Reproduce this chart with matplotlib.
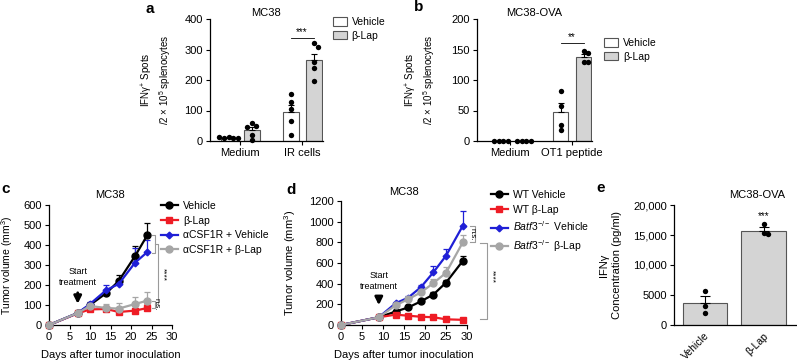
import matplotlib
matplotlib.use("Agg")
import matplotlib.pyplot as plt
import numpy as np
from matplotlib.patches import Patch
from matplotlib.ticker import FuncFormatter

plt.rcParams["font.family"] = ["Liberation Sans", "DejaVu Sans"]
plt.rcParams["mathtext.fontset"] = "custom"
plt.rcParams["mathtext.rm"] = "Liberation Sans"
plt.rcParams["mathtext.it"] = "Liberation Sans:italic"
plt.rcParams["mathtext.bf"] = "Liberation Sans:bold"
plt.rcParams["mathtext.default"] = "regular"
plt.rcParams["axes.linewidth"] = 0.9

W, H = 797, 363

# --- panel a: ELISpot MC38 ---
a_groups = ["Medium", "IR cells"]
a_veh_mean = [10, 95]
a_veh_sem = [3, 22]
a_veh_pts = [[12, 11, 10, 9, 12], [155, 128, 105, 65, 20]]
a_lap_mean = [35, 265]
a_lap_sem = [12, 20]
a_lap_pts = [[58, 48, 45, 20, 2], [320, 308, 258, 240, 197]]

# --- panel b: ELISpot MC38-OVA ---
b_groups = ["Medium", "OT1 peptide"]
b_veh_mean = [0, 47]
b_veh_sem = [0, 16]
b_veh_pts = [[0, 0, 0, 0], [82, 57, 27, 18]]
b_lap_mean = [0, 137]
b_lap_sem = [0, 6]
b_lap_pts = [[0, 0, 0, 0], [148, 145, 130, 129]]

# --- panel c: tumor growth MC38 ---
c_days = [0, 7, 10, 14, 17, 21, 24]
c_labels = ["Vehicle", "β-Lap", "αCSF1R + Vehicle", "αCSF1R + β-Lap"]
c_means = [
    [0, 60, 100, 160, 220, 345, 450],
    [0, 58, 78, 80, 65, 72, 85],
    [0, 60, 105, 175, 205, 312, 365],
    [0, 60, 95, 85, 82, 105, 122],
]
c_errs = [
    [0, 8, 10, 15, 30, 50, 60],
    [0, 8, 10, 12, 15, 15, 20],
    [0, 8, 12, 25, 12, 75, 60],
    [0, 8, 15, 20, 28, 35, 45],
]

# --- panel d: tumor growth WT vs Batf3-/- ---
d_days = [0, 9, 13, 16, 19, 22, 25, 29]
d_labels = ["WT Vehicle", "WT β-Lap",
            r"$\mathit{Batf3}^{-/-}$ Vehicle", r"$\mathit{Batf3}^{-/-}$ β-Lap"]
d_means = [
    [0, 75, 130, 170, 228, 295, 410, 620],
    [0, 75, 100, 90, 80, 75, 55, 50],
    [0, 75, 210, 265, 365, 510, 670, 960],
    [0, 75, 190, 250, 315, 405, 505, 800],
]
d_errs = [
    [0, 8, 12, 15, 15, 20, 30, 45],
    [0, 8, 10, 10, 10, 10, 8, 8],
    [0, 8, 15, 20, 25, 60, 70, 140],
    [0, 8, 20, 20, 20, 45, 55, 70],
]

# --- panel e: IFNg ELISA ---
e_groups = ["Vehicle", "β-Lap"]
e_mean = [3700, 15700]
e_sem = [1100, 600]
e_pts = [[5700, 3200, 2000], [16800, 15300, 15200]]

series_colors = ["#000000", "#ee1c25", "#1f1fd6", "#a6a6a6"]
series_markers = ["o", "s", "D", "o"]
series_ms = [5, 5, 3.4, 5]
bar_gray = "#d4d4d4"
bar_edge = "#555555"
bracket_gray = "#9a9a9a"
TICK = 8


def px_axes(fig, x0, x1, y0, y1):
    return fig.add_axes([x0 / W, 1 - y1 / H, (x1 - x0) / W, (y1 - y0) / H])


def style(ax):
    ax.spines["top"].set_visible(False)
    ax.spines["right"].set_visible(False)
    ax.tick_params(labelsize=TICK, length=3, width=0.8, pad=2)


def swarm(vals, center, px_x, px_y, d=4.6):
    placed = []
    xs = []
    for v in vals:
        y = v * px_y
        for k in [0, 1, -1, 2, -2, 3, -3, 4, -4]:
            x = k * d
            if all((x - qx) ** 2 + (y - qy) ** 2 >= d ** 2 for qx, qy in placed):
                break
        placed.append((x, y))
        xs.append(center + x / px_x)
    return xs


def bar_pair(ax, centers, off, width, veh_m, veh_s, veh_p, lap_m, lap_s, lap_p, px_x, px_y):
    for i, c in enumerate(centers):
        for pos, m, s, pts, fc in [(c - off, veh_m[i], veh_s[i], veh_p[i], "white"),
                                   (c + off, lap_m[i], lap_s[i], lap_p[i], bar_gray)]:
            ax.bar(pos, m, width, color=fc, edgecolor=bar_edge, linewidth=0.8, zorder=1)
            if s > 0:
                ax.errorbar(pos, m, yerr=[[0], [s]], color="black", lw=0.8,
                            capsize=2.5, capthick=0.8, zorder=2)
            ax.scatter(swarm(pts, pos, px_x, px_y), pts, s=15, color="black",
                       zorder=3, clip_on=False, linewidths=0)


fig = plt.figure(figsize=(W / 100, H / 100), dpi=100)

# ---------- a ----------
ax = px_axes(fig, 210, 323, 19, 141)
style(ax)
a_centers = [1.5, 4.6]
bar_pair(ax, a_centers, 0.575, 0.8, a_veh_mean, a_veh_sem, a_veh_pts,
         a_lap_mean, a_lap_sem, a_lap_pts, 20.0, 122 / 400)
ax.set_xlim(0, 5.65)
ax.set_ylim(0, 400)
ax.set_yticks([0, 100, 200, 300, 400])
ax.set_xticks(a_centers)
ax.set_xticklabels(a_groups, fontsize=8)
ax.set_title("MC38", fontsize=8, pad=2)
ax.set_ylabel("IFNγ$^{+}$ Spots\n/2 × 10$^{5}$ splenocytes", fontsize=7, linespacing=1.2)
ax.yaxis.set_label_coords(-0.33, 0.5)
ax.plot([a_centers[1] - 0.575, a_centers[1] + 0.575], [337, 337], color="black", lw=0.6)
ax.text(a_centers[1], 340, "***", ha="center", va="bottom", fontsize=7)
ax.legend(handles=[Patch(facecolor="white", edgecolor=bar_edge, lw=0.8, label="Vehicle"),
                   Patch(facecolor=bar_gray, edgecolor=bar_edge, lw=0.8, label="β-Lap")],
          loc="upper left", bbox_to_anchor=(333 / W, 1 - 17 / H), bbox_transform=fig.transFigure,
          frameon=False, fontsize=7.5, handlelength=1.3, handleheight=0.9,
          handletextpad=0.5, labelspacing=0.35, borderpad=0, borderaxespad=0)
fig.text(150 / W, 1 - 9 / H, "a", fontsize=11, fontweight="bold", ha="center", va="center")

# ---------- b ----------
ax = px_axes(fig, 477, 592, 19, 141)
style(ax)
b_centers = [1.65, 4.75]
bar_pair(ax, b_centers, 0.575, 0.75, b_veh_mean, b_veh_sem, b_veh_pts,
         b_lap_mean, b_lap_sem, b_lap_pts, 20.0, 122 / 200)
ax.set_xlim(0, 5.75)
ax.set_ylim(0, 200)
ax.set_yticks([0, 50, 100, 150, 200])
ax.set_xticks(b_centers)
ax.set_xticklabels(b_groups, fontsize=8)
ax.set_title("MC38-OVA", fontsize=8, pad=2)
ax.set_ylabel("IFNγ$^{+}$ Spots\n/2 × 10$^{5}$ splenocytes", fontsize=7, linespacing=1.2)
ax.yaxis.set_label_coords(-0.35, 0.5)
ax.plot([b_centers[1] - 0.575, b_centers[1] + 0.575], [160, 160], color="black", lw=0.6)
ax.text(b_centers[1], 161.5, "**", ha="center", va="bottom", fontsize=7)
ax.legend(handles=[Patch(facecolor="white", edgecolor=bar_edge, lw=0.8, label="Vehicle"),
                   Patch(facecolor=bar_gray, edgecolor=bar_edge, lw=0.8, label="β-Lap")],
          loc="upper left", bbox_to_anchor=(604 / W, 1 - 38 / H), bbox_transform=fig.transFigure,
          frameon=False, fontsize=7.5, handlelength=1.3, handleheight=0.9,
          handletextpad=0.5, labelspacing=0.35, borderpad=0, borderaxespad=0)
fig.text(419 / W, 1 - 7 / H, "b", fontsize=11, fontweight="bold", ha="center", va="center")


def growth(ax, days, means, errs, labels):
    handles = []
    for i in range(4):
        col = series_colors[i]
        ax.errorbar(days, means[i], yerr=[np.zeros(len(errs[i])), errs[i]], fmt="none",
                    ecolor=col, elinewidth=0.9, capsize=2.5, capthick=0.9, zorder=2 + i * 0.1,
                    clip_on=False)
        ln, = ax.plot(days, means[i], color=col, marker=series_markers[i], ms=series_ms[i],
                      lw=1.6, label=labels[i], zorder=3 + i * 0.1, clip_on=False)
        handles.append(ln)
    return handles


def bracket(ax, x0, x1, y0, y1):
    ax.plot([x0, x1, x1, x0], [y0, y0, y1, y1], color=bracket_gray, lw=0.8, clip_on=False)


# ---------- c ----------
ax = px_axes(fig, 49, 172, 205, 325)
style(ax)
hc = growth(ax, c_days, c_means, c_errs, c_labels)
ax.set_xlim(0, 30)
ax.set_ylim(0, 600)
ax.set_xticks(range(0, 31, 5))
ax.set_yticks(range(0, 601, 100))
ax.set_title("MC38", fontsize=8, pad=5)
ax.set_xlabel("Days after tumor inoculation", fontsize=8, labelpad=6)
ax.set_ylabel("Tumor volume (mm$^{3}$)", fontsize=7.5)
ax.yaxis.set_label_coords(-0.28, 0.5)
ax.annotate("", xy=(7, 92), xytext=(7, 175),
            arrowprops=dict(arrowstyle="-|>", color="black", lw=2, mutation_scale=11))
ax.text(7, 238, "Start\ntreatment", ha="center", va="center", fontsize=6.5, linespacing=1.3)
bracket(ax, 25.1, 25.8, 451, 362)
bracket(ax, 25.8, 26.6, 406, 104)
bracket(ax, 25.1, 25.8, 122, 86)
ax.text(26.2, 104, "n.s.", rotation=-90, ha="center", va="center", fontsize=5.5)
ax.text(27.7, 255, "****", rotation=-90, ha="center", va="center", fontsize=6)
ax.legend(handles=hc, loc="upper left", bbox_to_anchor=(161 / W, 1 - 201 / H),
          bbox_transform=fig.transFigure, frameon=False, fontsize=7.5, handlelength=1.6,
          handletextpad=0.5, labelspacing=0.45, borderpad=0, borderaxespad=0)
fig.text(6 / W, 1 - 189 / H, "c", fontsize=11, fontweight="bold", ha="center", va="center")

# ---------- d ----------
ax = px_axes(fig, 341, 467, 201, 325)
style(ax)
hd = growth(ax, d_days, d_means, d_errs, d_labels)
ax.set_xlim(0, 30)
ax.set_ylim(0, 1200)
ax.set_xticks(range(0, 31, 5))
ax.set_yticks(range(0, 1201, 200))
ax.set_title("MC38", fontsize=8, pad=4)
ax.set_xlabel("Days after tumor inoculation", fontsize=8, labelpad=6)
ax.set_ylabel("Tumor volume (mm$^{3}$)", fontsize=8)
ax.yaxis.set_label_coords(-0.34, 0.5)
ax.annotate("", xy=(9, 165), xytext=(9, 300),
            arrowprops=dict(arrowstyle="-|>", color="black", lw=2, mutation_scale=11))
ax.text(9, 428, "Start\ntreatment", ha="center", va="center", fontsize=6.5, linespacing=1.3)
bracket(ax, 30.7, 31.9, 960, 800)
bracket(ax, 33.1, 34.8, 790, 60)
ax.text(31.3, 880, "n.s.", rotation=-90, ha="center", va="center", fontsize=5.5)
ax.text(36.0, 465, "****", rotation=-90, ha="center", va="center", fontsize=6)
ax.legend(handles=hd, loc="upper left", bbox_to_anchor=(491 / W, 1 - 190 / H),
          bbox_transform=fig.transFigure, frameon=False, fontsize=7.5, handlelength=1.6,
          handletextpad=0.5, labelspacing=0.45, borderpad=0, borderaxespad=0)
fig.text(291 / W, 1 - 190 / H, "d", fontsize=11, fontweight="bold", ha="center", va="center")

# ---------- e ----------
ax = px_axes(fig, 674, 796, 205, 325)
style(ax)
e_x = np.arange(len(e_groups))
px_x_e = 122 / 2.07
for i in range(len(e_groups)):
    ax.bar(e_x[i], e_mean[i], 0.75, color=bar_gray, edgecolor=bar_edge, linewidth=0.8, zorder=1)
    ax.errorbar(e_x[i], e_mean[i], yerr=[[0], [e_sem[i]]], color="black", lw=0.8,
                capsize=3.5, capthick=0.8, zorder=2)
    ax.scatter(swarm(e_pts[i], e_x[i], px_x_e, 120 / 20000), e_pts[i], s=15,
               color="black", zorder=3, linewidths=0)
ax.set_xlim(-0.52, 1.55)
ax.set_ylim(0, 20000)
ax.set_yticks([0, 5000, 10000, 15000, 20000])
ax.yaxis.set_major_formatter(FuncFormatter(lambda v, p: f"{int(v):,}" if v >= 10000 else f"{int(v)}"))
ax.set_xticks(e_x)
ax.set_xticklabels(e_groups, rotation=45, ha="right", rotation_mode="anchor", fontsize=7.5)
ax.tick_params(axis="x", length=0, pad=4)
ax.set_title("MC38-OVA", fontsize=8, pad=5, x=0.68)
ax.set_ylabel("IFNγ\nConcentration (pg/ml)", fontsize=8, linespacing=1.3)
ax.yaxis.set_label_coords(-0.43, 0.5)
ax.text(e_x[1], 17300, "***", ha="center", va="bottom", fontsize=7)
fig.text(601 / W, 1 - 188 / H, "e", fontsize=11, fontweight="bold", ha="center", va="center")

fig.savefig("out.png", dpi=100)
